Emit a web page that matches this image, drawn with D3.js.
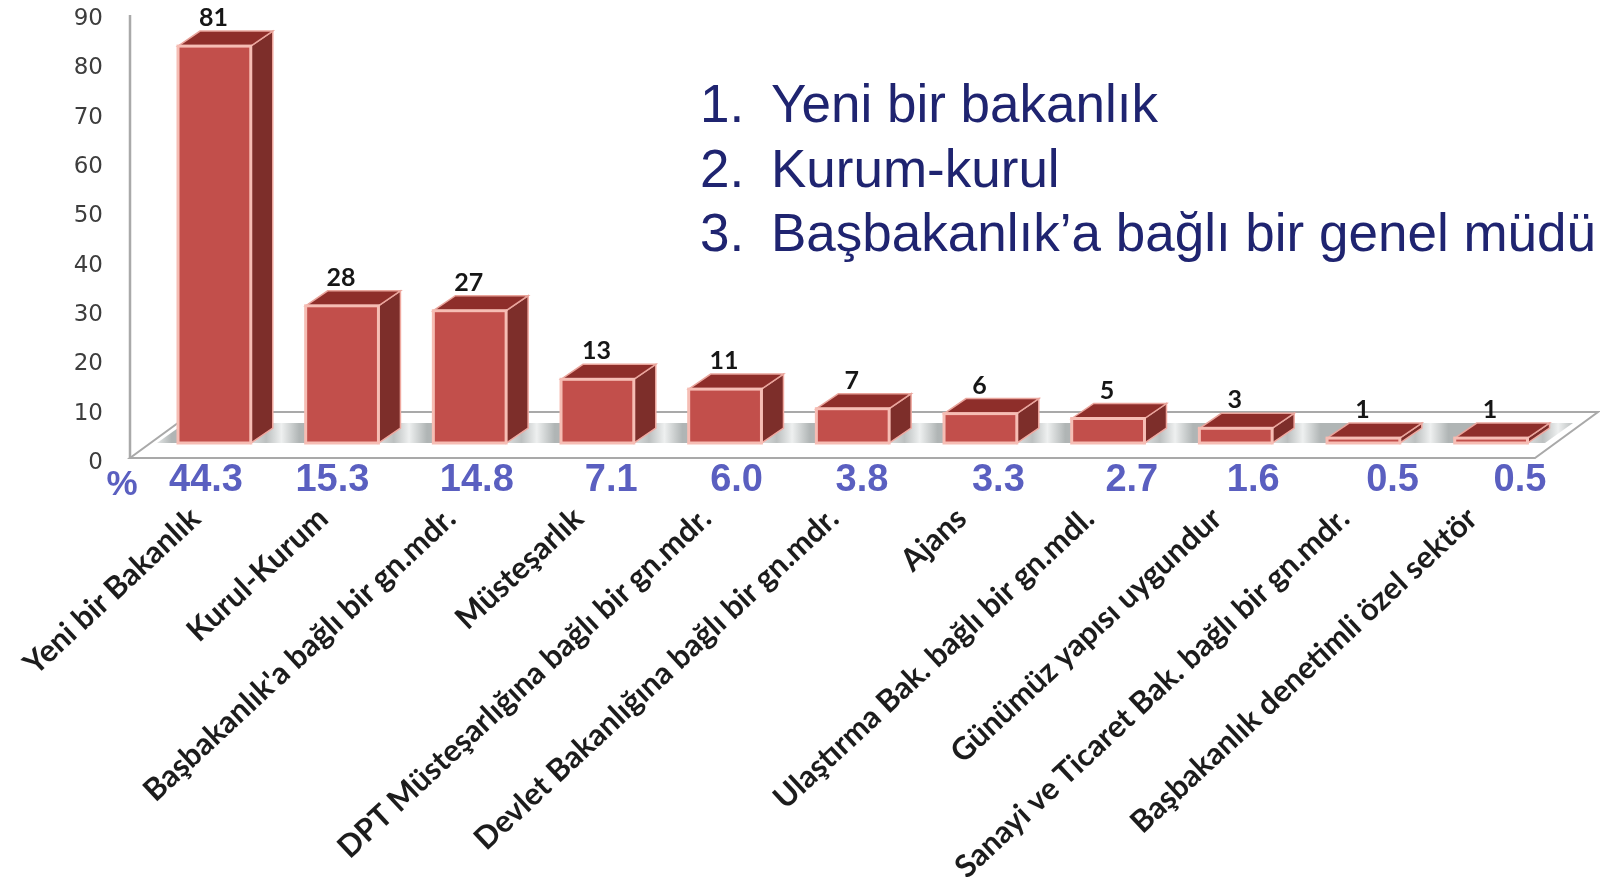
<!DOCTYPE html>
<html>
<head>
<meta charset="utf-8">
<script src="https://cdn.jsdelivr.net/npm/d3@7/dist/d3.min.js"></script>
<style>
    html, body { margin: 0; padding: 0; background: #fff; overflow: hidden; }
    svg { display: block; }
</style>
</head>
<body>
<svg id="chart" width="1600" height="892"></svg>
<script>
const categories = [
    "Yeni bir Bakanlık", "Kurul-Kurum", "Başbakanlık'a bağlı bir gn.mdr.", "Müsteşarlık",
    "DPT Müsteşarlığına bağlı bir gn.mdr.", "Devlet Bakanlığına bağlı bir gn.mdr.", "Ajans",
    "Ulaştırma Bak. bağlı bir gn.mdl.", "Günümüz yapısı uygundur",
    "Sanayi ve Ticaret Bak. bağlı bir gn.mdr.", "Başbakanlık denetimli özel sektör"
];
const counts = [81, 28, 27, 13, 11, 7, 6, 5, 3, 1, 1];
const percents = ["44.3", "15.3", "14.8", "7.1", "6.0", "3.8", "3.3", "2.7", "1.6", "0.5", "0.5"];
const yTicks = [0, 10, 20, 30, 40, 50, 60, 70, 80, 90];
const notes = ["Yeni bir bakanlık", "Kurum-kurul", "Başbakanlık’a bağlı bir genel müdü"];

const svg = d3.select("#chart");

const x = d3.scaleBand().domain(categories).range([178, 1527.5]).paddingInner(0.43).paddingOuter(0);
const y = d3.scaleLinear().domain([0, 90]).range([443, 2]);
// tick labels sit on the front of the floor, so they have their own range
const yLabels = d3.scaleLinear().domain([0, 90]).range([461, 17]);
const depthX = 22, depthY = 15;

// the % row was placed by hand in the original, not on the bars
const pctX = d3.scalePoint().domain(categories).range([206, 1520]);
const pctNudge = [0, -5, 8, 11, 5, -1, 4, 6, -4, 4, 0];

const defs = svg.append("defs");
const floorFill = defs.append("linearGradient")
    .attr("id", "floorFill")
    .attr("gradientUnits", "userSpaceOnUse")
    .attr("spreadMethod", "repeat")
    .attr("x1", x(categories[0]) + x.bandwidth())
    .attr("x2", x(categories[1]) + x.bandwidth())
    .attr("y1", 0).attr("y2", 0);
[[0, "#dcdfdf"], [0.12, "#bcc0c0"], [0.24, "#eef0f0"], [0.38, "#b0b5b5"], [1, "#b0b5b5"]].forEach(s => {
    floorFill.append("stop").attr("offset", s[0]).attr("stop-color", s[1]);
});
defs.append("filter").attr("id", "soft")
    .append("feGaussianBlur").attr("stdDeviation", 0.6);

const chart = svg.append("g").attr("filter", "url(#soft)");

// floor and back wall line
chart.append("polygon")
    .attr("points", "130,458 1535,458 1598,412 193,412")
    .attr("fill", "#fff")
    .attr("stroke", "#a9a9a9")
    .attr("stroke-width", 2);
chart.append("polygon")
    .attr("points", "157,443 1545,443 1573,423 185,423")
    .attr("fill", "url(#floorFill)");

chart.append("line")
    .attr("x1", 130).attr("x2", 130)
    .attr("y1", 458).attr("y2", 15)
    .attr("stroke", "#a9a9a9")
    .attr("stroke-width", 2.5);

const yAxis = d3.axisLeft(yLabels).tickValues(yTicks).tickSize(0).tickPadding(0);
chart.append("g")
    .attr("transform", "translate(103,0)")
    .call(yAxis)
    .call(g => g.select(".domain").remove())
    .selectAll("text")
    .attr("font-family", "DejaVu Sans")
    .attr("font-size", 23)
    .attr("fill", "#3c3c3c");

// bars
const bars = chart.selectAll(".bar")
    .data(counts)
    .join("g")
    .attr("class", "bar");

const left = (d, i) => x(categories[i]);
const right = (d, i) => x(categories[i]) + x.bandwidth();

bars.append("polygon")
    .attr("points", (d, i) => {
        const r = right(d, i);
        return [[r, y(d)], [r + depthX, y(d) - depthY], [r + depthX, y(0) - depthY], [r, y(0)]].join(" ");
    })
    .attr("fill", "#7d2d2b")
    .attr("stroke", "#f0a9a0")
    .attr("stroke-width", 1.5);

bars.append("polygon")
    .attr("points", (d, i) => {
        const l = left(d, i), r = right(d, i);
        return [[l, y(d)], [l + depthX, y(d) - depthY], [r + depthX, y(d) - depthY], [r, y(d)]].join(" ");
    })
    .attr("fill", "#8e2f2c")
    .attr("stroke", "#e9a59c")
    .attr("stroke-width", 1.5);

bars.append("rect")
    .attr("x", left)
    .attr("y", d => y(d))
    .attr("width", x.bandwidth())
    .attr("height", d => y(0) - y(d))
    .attr("fill", "#c24f4b")
    .attr("stroke", "#f6bdb4")
    .attr("stroke-width", 3);

// counts over the bars
chart.selectAll(".count")
    .data(counts)
    .join("text")
    .attr("class", "count")
    .attr("x", (d, i) => x(categories[i]) + x.bandwidth() / 2 - 1)
    .attr("y", d => y(d) - 20)
    .attr("text-anchor", "middle")
    .attr("font-family", "Lato")
    .attr("font-weight", 700)
    .attr("font-size", 25)
    .attr("fill", "#151515")
    .text(d => d);

// % row
chart.append("text")
    .attr("x", 122).attr("y", 495)
    .attr("text-anchor", "middle")
    .attr("font-family", "Liberation Sans")
    .attr("font-weight", 700)
    .attr("font-size", 35)
    .attr("fill", "#5a5fc0")
    .text("%");

chart.selectAll(".pct")
    .data(percents)
    .join("text")
    .attr("class", "pct")
    .attr("x", (d, i) => pctX(categories[i]) + pctNudge[i])
    .attr("y", 491)
    .attr("text-anchor", "middle")
    .attr("font-family", "Liberation Sans")
    .attr("font-weight", 700)
    .attr("font-size", 38)
    .attr("fill", "#5a5fc0")
    .text(d => d);

// slanted category labels
chart.selectAll(".cat")
    .data(categories)
    .join("text")
    .attr("class", "cat")
    .attr("transform", d => `translate(${x(d) + x.bandwidth() / 2 - 12},521) rotate(-43)`)
    .attr("text-anchor", "end")
    .attr("font-family", "Lato")
    .attr("font-weight", 700)
    .attr("font-size", 31)
    .attr("fill", "#1c1c1c")
    .text(d => d);

// numbered list, sharp in the original so outside the soft group
const noteRows = svg.selectAll(".note")
    .data(notes)
    .join("g")
    .attr("class", "note")
    .attr("transform", (d, i) => `translate(0,${122 + i * 64.5})`)
    .attr("font-family", "Liberation Sans")
    .attr("font-size", 53)
    .attr("fill", "#1f2470");
noteRows.append("text").attr("x", 700).text((d, i) => `${i + 1}.`);
noteRows.append("text").attr("x", 771).text(d => d);
</script>
</body>
</html>
